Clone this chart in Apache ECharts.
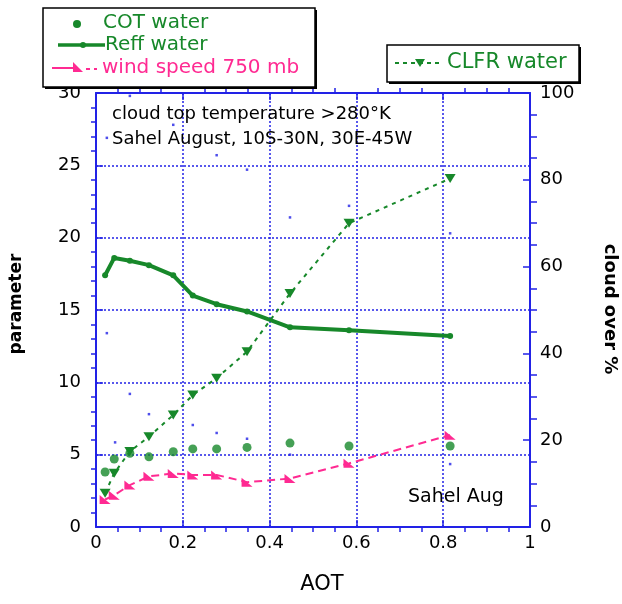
<!DOCTYPE html>
<html>
<head>
<meta charset="utf-8">
<script src="https://cdn.jsdelivr.net/npm/echarts@6/dist/echarts.min.js"></script>
<style>html,body{margin:0;padding:0;background:#fff;}#c{width:622px;height:604px;}</style>
</head>
<body>
<div id="c"></div>
<script>
// ---- data ----
const aot   = [0.021, 0.042, 0.078, 0.122, 0.178, 0.223, 0.278, 0.348, 0.447, 0.583, 0.816];
const cot   = [3.8, 4.7, 5.1, 4.85, 5.2, 5.4, 5.4, 5.5, 5.8, 5.6, 5.6];
const reff  = [17.4, 18.6, 18.4, 18.1, 17.4, 16.0, 15.4, 14.9, 13.8, 13.6, 13.2];
const clfr  = [7.8, 12.4, 17.4, 20.8, 25.8, 30.4, 34.3, 40.4, 53.8, 70.0, 80.3];
const wind  = [1.9, 2.2, 2.9, 3.5, 3.7, 3.6, 3.6, 3.1, 3.35, 4.4, 6.35];
const dotsHighX = [0.025, 0.078, 0.178, 0.278, 0.348, 0.447, 0.583, 0.816];
const dotsHighY = [26.9, 29.8, 27.8, 25.7, 24.7, 21.4, 22.2, 20.3];
const dotsLowX  = [0.025, 0.044, 0.078, 0.122, 0.223, 0.278, 0.348, 0.447, 0.816];
const dotsLowY  = [13.4, 5.85, 9.2, 7.8, 7.05, 6.5, 6.1, 5.0, 4.35];
const xTicks = [0, 0.2, 0.4, 0.6, 0.8, 1];
const leftTicks = [0, 5, 10, 15, 20, 25, 30];
const rightTicks = [0, 20, 40, 60, 80, 100];

const GREEN = '#17882a', PINK = '#ff2a92', BLUE = '#2222e6';
const FONT = 'DejaVu Sans';
const zip = (xs, ys) => xs.map((x, i) => [x, ys[i]]);

const chart = echarts.init(document.getElementById('c'), null, {renderer: 'canvas'});
const axisCommon = {
  axisLine: {show: true, onZero: false, lineStyle: {color: BLUE, width: 2}},
  axisTick: {show: true, inside: true, length: 7, lineStyle: {color: BLUE, width: 1.5}},
  minorTick: {show: true, length: -5, lineStyle: {color: BLUE, width: 1.5}},
  axisLabel: {color: '#000', fontFamily: FONT, fontSize: 18, inside: false}
};
const gridLine = {show: true, lineStyle: {color: BLUE, type: [2, 2], width: 1.5}};

chart.setOption({
  animation: false,
  backgroundColor: '#fff',
  grid: {left: 96, right: 92, top: 93, bottom: 77, containLabel: false},
  xAxis: [
    Object.assign({}, axisCommon, {
      type: 'value', position: 'bottom', min: xTicks[0], max: xTicks[xTicks.length - 1], interval: 0.2,
      minorTick: Object.assign({}, axisCommon.minorTick, {splitNumber: 4}),
      axisLabel: Object.assign({}, axisCommon.axisLabel, {margin: 7,
        formatter: v => String(+v.toFixed(1))}),
      splitLine: gridLine
    }),
    Object.assign({}, axisCommon, {
      type: 'value', position: 'top', min: 0, max: 1, interval: 0.2,
      minorTick: Object.assign({}, axisCommon.minorTick, {splitNumber: 4}),
      axisLabel: {show: false}, splitLine: {show: false}
    })
  ],
  yAxis: [
    Object.assign({}, axisCommon, {
      type: 'value', position: 'left', min: leftTicks[0], max: leftTicks[leftTicks.length - 1], interval: 5,
      minorTick: Object.assign({}, axisCommon.minorTick, {splitNumber: 5}),
      axisLabel: Object.assign({}, axisCommon.axisLabel, {margin: 15}),
      splitLine: gridLine
    }),
    Object.assign({}, axisCommon, {
      type: 'value', position: 'right', min: rightTicks[0], max: rightTicks[rightTicks.length - 1], interval: 20,
      axisTick: Object.assign({}, axisCommon.axisTick, {length: 7}),
      minorTick: Object.assign({}, axisCommon.minorTick, {splitNumber: 4, length: -7}),
      axisLabel: Object.assign({}, axisCommon.axisLabel, {margin: 10}),
      splitLine: {show: false}
    })
  ],
  series: [
    {name: 'blue dots high', type: 'scatter', data: zip(dotsHighX, dotsHighY), symbol: 'rect', symbolSize: 2.5,
     itemStyle: {color: BLUE}, z: 1},
    {name: 'blue dots low', type: 'scatter', data: zip(dotsLowX, dotsLowY), symbol: 'rect', symbolSize: 2.5,
     itemStyle: {color: BLUE}, z: 1},
    {name: 'CLFR water', type: 'line', yAxisIndex: 1, data: zip(aot, clfr),
     lineStyle: {color: GREEN, width: 2, type: [4, 5]}, symbol: 'triangle', symbolRotate: 180, symbolSize: [11, 9],
     itemStyle: {color: GREEN}, z: 3},
    {name: 'wind speed 750 mb', type: 'line', data: zip(aot, wind),
     lineStyle: {color: PINK, width: 2, type: [8, 5]}, symbol: 'path://M0,0 L0,10 L12,10 Z', symbolSize: [11, 9],
     itemStyle: {color: PINK}, z: 3},
    {name: 'Reff water', type: 'line', data: zip(aot, reff),
     lineStyle: {color: GREEN, width: 4}, symbol: 'circle', symbolSize: 6,
     itemStyle: {color: GREEN}, z: 4},
    {name: 'COT water', type: 'scatter', data: zip(aot, cot), symbol: 'circle', symbolSize: 9,
     itemStyle: {color: GREEN}, z: 4}
  ],
  graphic: [
    // annotations
    {type: 'text', x: 112, y: 114, z: 50, style: {text: 'cloud top temperature >280°K', fontFamily: FONT, fontSize: 18, fill: '#000', verticalAlign: 'middle'}},
    {type: 'text', x: 112, y: 139, z: 50, style: {text: 'Sahel August, 10S-30N, 30E-45W', fontFamily: FONT, fontSize: 18, fill: '#000', verticalAlign: 'middle'}},
    {type: 'text', x: 408, y: 497, z: 50, style: {text: 'Sahel Aug', fontFamily: FONT, fontSize: 19, fill: '#000', verticalAlign: 'middle'}},
    // axis titles
    {type: 'text', x: 322, y: 585, z: 50, style: {text: 'AOT', fontFamily: FONT, fontSize: 21, fill: '#000', align: 'center', verticalAlign: 'middle'}},
    {type: 'text', x: 17, y: 304, rotation: Math.PI / 2, z: 50, style: {text: 'parameter', fontFamily: FONT, fontWeight: 'bold', fontSize: 17, fill: '#000', align: 'center', verticalAlign: 'middle'}},
    {type: 'text', x: 610, y: 309, rotation: -Math.PI / 2, z: 50, style: {text: 'cloud over %', fontFamily: FONT, fontWeight: 'bold', fontSize: 18, fill: '#000', align: 'center', verticalAlign: 'middle'}},
    // legend box 1
    {type: 'rect', z: 99, shape: {x: 45, y: 10, width: 272, height: 79}, style: {fill: '#000'}},
    {type: 'rect', z: 100, shape: {x: 43, y: 8, width: 272, height: 79}, style: {fill: '#fff', stroke: '#000', lineWidth: 1.5}},
    {type: 'circle', z: 101, shape: {cx: 77, cy: 24, r: 4}, style: {fill: GREEN}},
    {type: 'text', x: 103, y: 23, z: 101, style: {text: 'COT water', fontFamily: FONT, fontSize: 20, fill: GREEN, verticalAlign: 'middle'}},
    {type: 'line', z: 101, shape: {x1: 58, y1: 45, x2: 105, y2: 45}, style: {stroke: GREEN, lineWidth: 3.5}},
    {type: 'circle', z: 101, shape: {cx: 83, cy: 45, r: 3}, style: {fill: GREEN}},
    {type: 'text', x: 105, y: 45, z: 101, style: {text: 'Reff water', fontFamily: FONT, fontSize: 20, fill: GREEN, verticalAlign: 'middle'}},
    {type: 'line', z: 101, shape: {x1: 52, y1: 68, x2: 74, y2: 68}, style: {stroke: PINK, lineWidth: 2}},
    {type: 'polygon', z: 101, shape: {points: [[73, 62], [73, 72], [83, 72]]}, style: {fill: PINK}},
    {type: 'line', z: 101, shape: {x1: 86, y1: 69, x2: 90, y2: 69}, style: {stroke: PINK, lineWidth: 2}},
    {type: 'line', z: 101, shape: {x1: 94, y1: 69, x2: 97, y2: 69}, style: {stroke: PINK, lineWidth: 2}},
    {type: 'text', x: 102, y: 68, z: 101, style: {text: 'wind speed 750 mb', fontFamily: FONT, fontSize: 20, fill: PINK, verticalAlign: 'middle'}},
    // legend box 2
    {type: 'rect', z: 99, shape: {x: 389, y: 47, width: 192, height: 37}, style: {fill: '#000'}},
    {type: 'rect', z: 100, shape: {x: 387, y: 45, width: 192, height: 37}, style: {fill: '#fff', stroke: '#000', lineWidth: 1.5}},
    {type: 'line', z: 101, shape: {x1: 395, y1: 63, x2: 443, y2: 63}, style: {stroke: GREEN, lineWidth: 2, lineDash: [4, 4]}},
    {type: 'polygon', z: 101, shape: {points: [[415, 59], [425, 59], [420, 67]]}, style: {fill: GREEN}},
    {type: 'text', x: 447, y: 63, z: 101, style: {text: 'CLFR water', fontFamily: FONT, fontSize: 21, fill: GREEN, verticalAlign: 'middle'}}
  ]
});
</script>
</body>
</html>
